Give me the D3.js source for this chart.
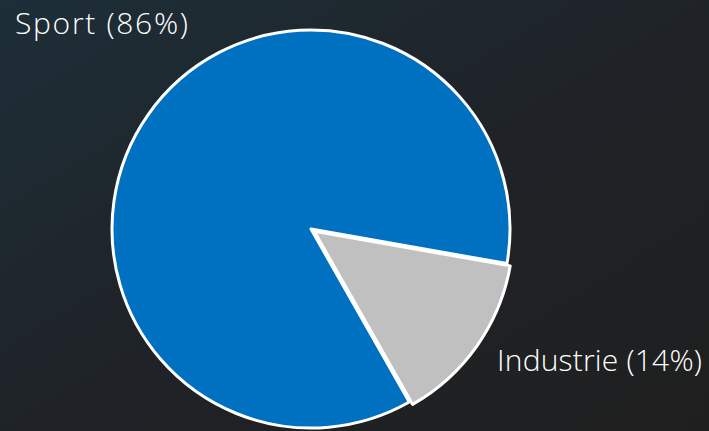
<!DOCTYPE html>
<html><head><meta charset="utf-8">
<script src="https://cdn.jsdelivr.net/npm/d3@7"></script>
<style>html,body{margin:0;padding:0;background:#202020;overflow:hidden}</style>
</head><body>
<script>
const categories = ["Sport", "Industrie"];
const shares = [86, 14];
const colors = ["#0070c0", "#c0c0c0"];

const W = 709, H = 431;
const svg = d3.select("body").append("svg").attr("width", W).attr("height", H);
const defs = svg.append("defs");
const grad = defs.append("linearGradient").attr("id", "bg")
  .attr("x1", "0%").attr("y1", "0%").attr("x2", "100%").attr("y2", "100%");
grad.append("stop").attr("offset", "0%").attr("stop-color", "#1d2e38");
grad.append("stop").attr("offset", "55%").attr("stop-color", "#1f2226");
grad.append("stop").attr("offset", "100%").attr("stop-color", "#1f1f1f");
svg.append("rect").attr("width", W).attr("height", H).attr("fill", "url(#bg)");

const cx = 311, cy = 229, R = 199;
const data = categories.map((c, i) => ({ name: c, value: shares[i], color: colors[i] }));
const pie = d3.pie().value(d => d.value).sort(null)
  .startAngle(150.4 * Math.PI / 180).endAngle((150.4 + 360) * Math.PI / 180);
const arcs = pie(data);
const arc = d3.arc().innerRadius(0).outerRadius(R);
const explode = [0, 4];

const g = svg.append("g").attr("transform", `translate(${cx},${cy})`);
g.selectAll("path").data(arcs).enter().append("path")
  .attr("d", arc)
  .attr("transform", (d, i) => {
    const a = (d.startAngle + d.endAngle) / 2;
    return `translate(${Math.sin(a) * explode[i]},${-Math.cos(a) * explode[i]})`;
  })
  .attr("fill", d => d.data.color)
  .attr("stroke", "#ffffff").attr("stroke-width", 3).attr("stroke-linejoin", "round");

const labelPos = [[15, 34, 173], [497, 371, 205]];
svg.selectAll("text.lbl").data(arcs).enter().append("text")
  .attr("class", "lbl")
  .attr("x", (d, i) => labelPos[i][0]).attr("y", (d, i) => labelPos[i][1])
  .attr("text-anchor", "start")
  .attr("font-family", "'Open Sans', Lato, sans-serif")
  .attr("font-weight", 300)
  .attr("font-size", 30).attr("fill", "#ffffff")
  .text(d => `${d.data.name} (${d.data.value}%)`)
  .each(function (d, i) {
    const w = this.getComputedTextLength();
    if (Math.abs(w - labelPos[i][2]) > 2) {
      d3.select(this).attr("textLength", labelPos[i][2]).attr("lengthAdjust", "spacing");
    }
  });
</script>
</body></html>
